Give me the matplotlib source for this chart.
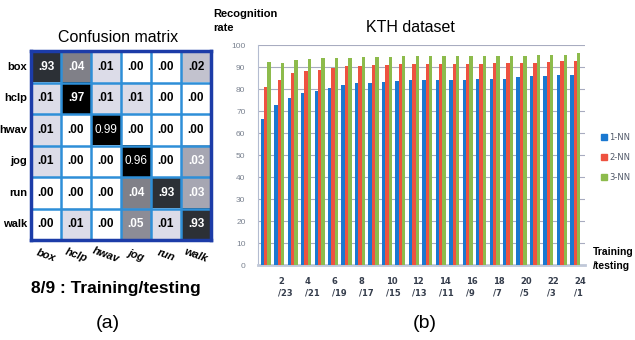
import numpy as np
import matplotlib
matplotlib.use("Agg")
import matplotlib.pyplot as plt
from matplotlib.colors import ListedColormap, BoundaryNorm
from matplotlib.lines import Line2D

# ---- confusion matrix data (8/9 training/testing split) ----
actions = ["box", "hclp", "hwav", "jog", "run", "walk"]
confusion = [
    [0.93, 0.04, 0.01, 0.00, 0.00, 0.02],
    [0.01, 0.97, 0.01, 0.01, 0.00, 0.00],
    [0.01, 0.00, 0.99, 0.00, 0.00, 0.00],
    [0.01, 0.00, 0.00, 0.96, 0.00, 0.03],
    [0.00, 0.00, 0.00, 0.04, 0.93, 0.03],
    [0.00, 0.01, 0.00, 0.05, 0.01, 0.93],
]
cell_text = [
    [".93", ".04", ".01", ".00", ".00", ".02"],
    [".01", ".97", ".01", ".01", ".00", ".00"],
    [".01", ".00", "0.99", ".00", ".00", ".00"],
    [".01", ".00", ".00", "0.96", ".00", ".03"],
    [".00", ".00", ".00", ".04", ".93", ".03"],
    [".00", ".01", ".00", ".05", ".01", ".93"],
]

# ---- recognition rate vs. training/testing split on KTH ----
n_train = list(range(1, 25))
rate_1nn = [66.5, 72.9, 76.1, 78.1, 79.3, 80.4, 81.6, 82.5, 82.9, 83.2, 83.6, 83.9,
            84.0, 84.3, 84.3, 84.3, 84.6, 84.6, 84.7, 85.3, 85.7, 85.7, 86.5, 86.5]
rate_2nn = [81.0, 84.2, 87.1, 88.3, 88.7, 89.6, 90.3, 90.6, 90.7, 91.0, 91.4, 91.5,
            91.3, 91.5, 91.5, 91.4, 91.5, 91.6, 91.6, 91.9, 92.0, 92.2, 92.6, 92.8]
rate_3nn = [92.3, 92.0, 93.2, 93.6, 93.9, 94.3, 94.3, 94.5, 94.6, 94.6, 94.8, 94.9,
            94.8, 94.9, 94.9, 94.9, 94.9, 94.9, 95.1, 95.1, 95.3, 95.3, 95.6, 96.2]
series_names = ["1-NN", "2-NN", "3-NN"]
tick_groups = list(range(2, 25, 2))
tick_labels = [f"{t}\n/{25 - t}" for t in tick_groups]

fig = plt.figure(figsize=(6.35, 3.4), dpi=100)
fig.patch.set_facecolor("white")

# ---------------- (a) confusion matrix ----------------
axm = fig.add_axes([31 / 635, 1 - 240 / 340, 180 / 635, 189 / 340])
shade_colors = ["#ffffff", "#dcdce8", "#c2c2ce", "#a6a6b2", "#808088",
                "#8c8c96", "#2c3036", "#000000"]
bounds = [-0.001, 0.005, 0.015, 0.025, 0.035, 0.045, 0.5, 0.95, 1.0]
cmap = ListedColormap(shade_colors)
norm = BoundaryNorm(bounds, cmap.N)
cm = np.array(confusion)
axm.imshow(cm, cmap=cmap, norm=norm, aspect="auto", interpolation="nearest")
for i in range(len(actions)):
    for j in range(len(actions)):
        v = cm[i, j]
        light = v >= 0.03
        txt = cell_text[i][j]
        axm.text(j, i, txt, ha="center", va="center",
                 color="white" if light else "black", fontsize=8.5,
                 fontweight="normal" if txt.startswith("0.") else "bold",
                 family="Liberation Sans")
for k in np.arange(0.5, len(actions) - 0.5, 1.0):
    axm.axhline(k, color="#2e8fd8", lw=1.8)
    axm.axvline(k, color="#2e8fd8", lw=1.8)
axm.set_xticks([])
axm.set_yticks([])
for sp in axm.spines.values():
    sp.set_color("#1c3ca8")
    sp.set_linewidth(2.5)

for i, name in enumerate(actions):
    axm.text(-0.62, i, name, ha="right", va="center", fontsize=8,
             fontweight="bold", family="Liberation Sans")
    axm.text(i, 5.98, name, ha="center", va="center", fontsize=8,
             fontweight="bold", style="italic", rotation=-20,
             family="Liberation Sans")

fig.text(118 / 635, 1 - 38 / 340, "Confusion matrix", ha="center", va="center",
         fontsize=11.5, family="Liberation Sans")
fig.text(116 / 635, 1 - 288 / 340, "8/9 : Training/testing", ha="center",
         va="center", fontsize=12.5, fontweight="bold", family="Liberation Sans")
fig.text(108 / 635, 1 - 323 / 340, "(a)", ha="center", va="center",
         fontsize=14, family="Liberation Sans")

# ---------------- (b) bar chart ----------------
axb = fig.add_axes([258 / 635, 1 - 265 / 340, 327 / 635, 220 / 340])
colors = ["#1a78d0", "#ee5240", "#8dbb4c"]
x = np.array(n_train, dtype=float)
w = 0.25
for k, (vals, c) in enumerate(zip([rate_1nn, rate_2nn, rate_3nn], colors)):
    axb.bar(x + (k - 1) * w, vals, width=w, color=c, edgecolor="none", zorder=3)
axb.set_xlim(0.42, 24.72)
axb.set_ylim(0, 100)
axb.set_yticks(range(0, 101, 10))
axb.yaxis.grid(True, color="#a8acc0", lw=0.8, zorder=0)
axb.tick_params(axis="y", length=0, pad=9, labelsize=6, labelcolor="#7a8290")
axb.set_xticks(np.array(tick_groups) - 0.1)
axb.set_xticklabels(tick_labels, fontsize=6, fontweight="bold", color="#353d4c",
                    ha="left", multialignment="left", linespacing=1.35)
axb.tick_params(axis="x", length=0, pad=9)
for s in ["top", "right"]:
    axb.spines[s].set_visible(False)
axb.spines["left"].set_color("#b4bcd0")
axb.spines["bottom"].set_color("#c0c8d8")
axb.spines["bottom"].set_linewidth(2.0)
for lab in axb.get_yticklabels():
    lab.set_family("Liberation Sans")

fig.text(410 / 635, 1 - 28 / 340, "KTH dataset", ha="center", va="center",
         fontsize=11.5, family="Liberation Sans")
fig.text(213 / 635, 1 - 9 / 340, "Recognition\nrate", ha="left", va="top",
         fontsize=8, fontweight="bold", linespacing=1.55, family="Liberation Sans")
fig.text(593 / 635, 1 - 247 / 340, "Training\n/testing", ha="left", va="top",
         fontsize=7.5, fontweight="bold", linespacing=1.5, family="Liberation Sans")
fig.text(425 / 635, 1 - 324 / 340, "(b)", ha="center", va="center",
         fontsize=14, family="Liberation Sans")

handles = [Line2D([], [], marker="s", ls="none", color=c, markersize=4)
           for c in colors]
fig.legend(handles, series_names, loc="upper left",
           bbox_to_anchor=(596 / 635, 1 - 129 / 340), frameon=False,
           fontsize=6, labelcolor="#505868", handletextpad=0.1,
           labelspacing=1.3, borderpad=0, handlelength=1.0)

fig.savefig("out.png", dpi=100)
